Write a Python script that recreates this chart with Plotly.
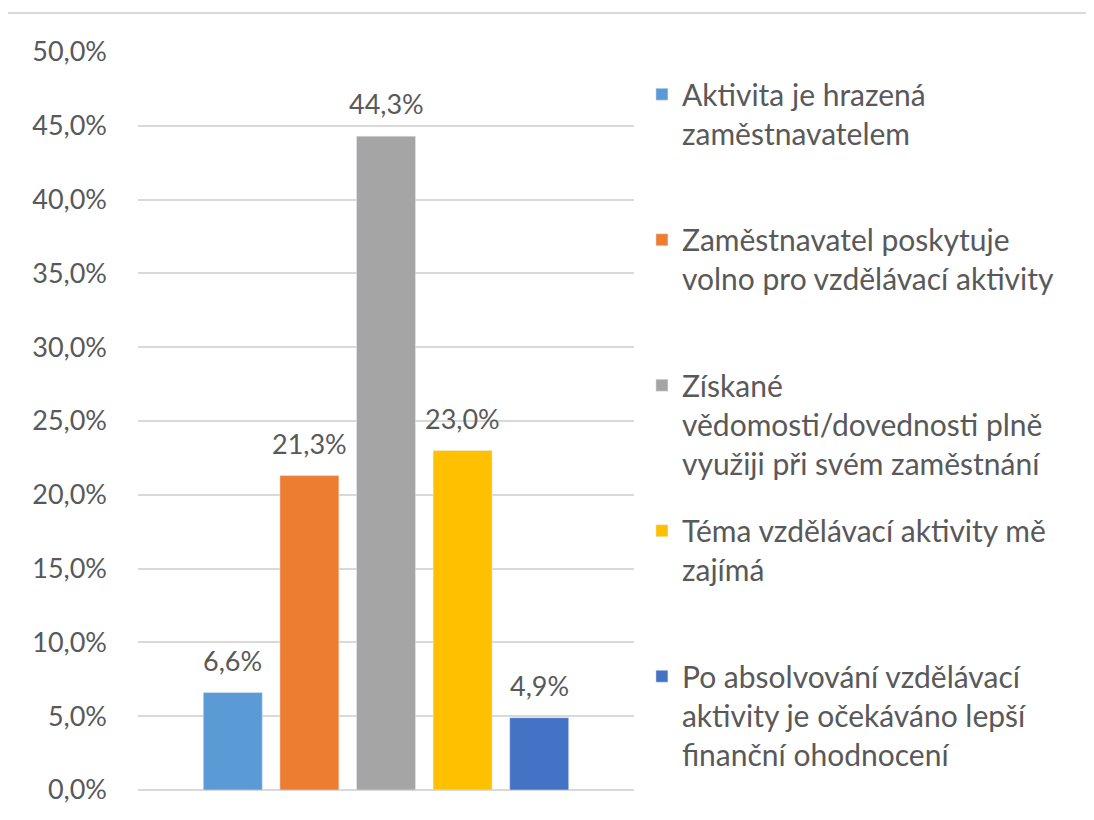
import plotly.graph_objects as go

names = [
    "Aktivita je hrazená<br>zaměstnavatelem",
    "Zaměstnavatel poskytuje<br>volno pro vzdělávací aktivity",
    "Získané<br>vědomosti/dovednosti plně<br>využiji při svém zaměstnání",
    "Téma vzdělávací aktivity mě<br>zajímá",
    "Po absolvování vzdělávací<br>aktivity je očekáváno lepší<br>finanční ohodnocení",
]
values = [6.6, 21.3, 44.3, 23.0, 4.9]
colors = ["#5B9BD5", "#ED7D31", "#A5A5A5", "#FFC000", "#4472C4"]
tick_vals = [0, 5, 10, 15, 20, 25, 30, 35, 40, 45, 50]
tick_text = [f"{t:.1f}".replace(".", ",") + "%" for t in tick_vals]

FONT = "Lato"
TXT = "#595959"

fig = go.Figure()
for i, (n, v, c) in enumerate(zip(names, values, colors)):
    lines = n.count("<br>") + 1
    label = n + "<br>\u00a0" * (3 - lines)
    fig.add_trace(go.Bar(x=[i], y=[v], name=label, marker_color=c, width=0.77,
                         legendgroup=str(i), hoverinfo="skip"))
    fig.add_annotation(x=i, y=v, text=f"{v:.1f}".replace(".", ",") + "%",
                       showarrow=False, yanchor="bottom", yshift=14,
                       font=dict(family=FONT, size=27, color=TXT))

fig.update_layout(
    width=1086, height=812,
    margin=dict(l=130, r=460, t=44, b=30),
    paper_bgcolor="white", plot_bgcolor="white",
    barmode="overlay",
    font=dict(family=FONT, size=27, color=TXT),
    showlegend=True,
    legend=dict(x=1.016, xanchor="left", y=0.978, yanchor="top",
                font=dict(family=FONT, size=30, color=TXT),
                valign="top", tracegroupgap=25.5, itemclick=False),
    xaxis=dict(range=[-1.2375, 5.2375], showticklabels=False, showgrid=False,
               zeroline=False, showline=False, fixedrange=True),
    yaxis=dict(range=[0, 50], tickvals=tick_vals, ticktext=tick_text,
               showgrid=True, gridcolor="#D9D9D9", gridwidth=1.5,
               zeroline=True, zerolinecolor="#D9D9D9", zerolinewidth=1.5,
               ticks="", ticklabelstandoff=30, showline=False,
               tickfont=dict(family=FONT, size=27, color=TXT)),
    shapes=[dict(type="rect", xref="paper", yref="paper",
                 x0=-0.268, x1=2, y0=-1, y1=1.0528,
                 line=dict(color="#D9D9D9", width=2), layer="below")],
)

fig.write_html("out.html")
